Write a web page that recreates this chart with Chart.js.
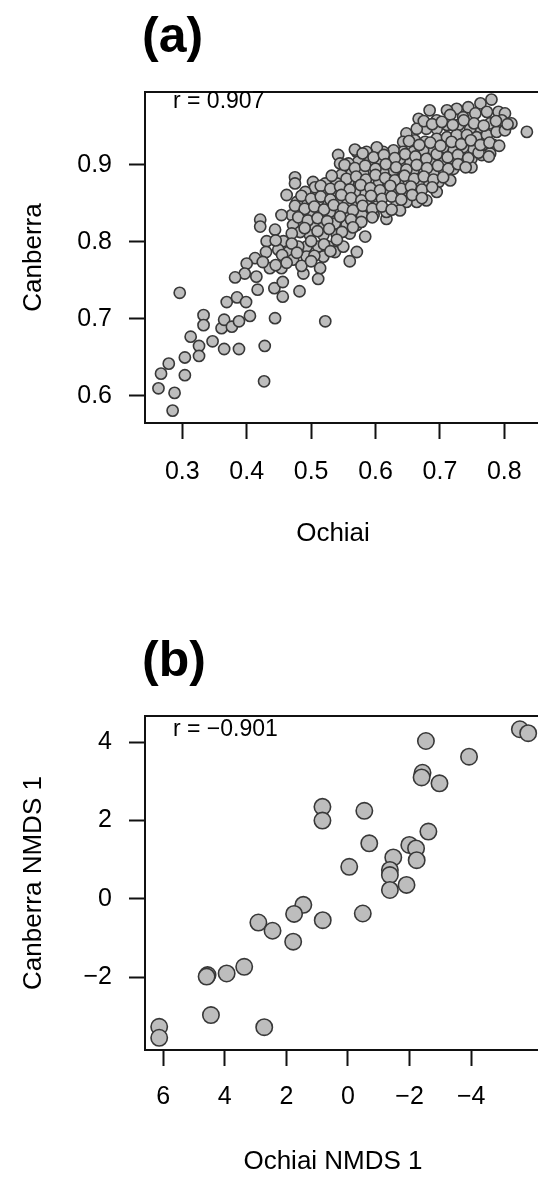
<!DOCTYPE html>
<html lang="en">
<head>
  <meta charset="UTF-8" />
  <title>Ochiai vs Canberra</title>
  <style>
    body { margin: 0; background: white; }
    canvas { display: block; }
  </style>
</head>
<body>
  <canvas id="chartA" width="538" height="589"></canvas>
  <canvas id="chartB" width="538" height="589"></canvas>

  <script src="https://cdn.jsdelivr.net/npm/chart.js"></script>
  <script>
    // panel (a): pairwise dissimilarities, Ochiai (x) vs Canberra (y)
    const ochiaiA = [
      0.780, 0.763, 0.744, 0.726, 0.711, 0.684, 0.667, 0.695, 0.716, 0.736, 0.755, 0.773, 0.791, 0.801, 0.811, 0.835,
      0.796, 0.778, 0.762, 0.747, 0.729, 0.711, 0.695, 0.679, 0.664, 0.648, 0.643, 0.661, 0.677, 0.695, 0.711, 0.726,
      0.742, 0.757, 0.773, 0.788, 0.801, 0.783, 0.767, 0.752, 0.736, 0.721, 0.705, 0.690, 0.674, 0.659, 0.643, 0.628,
      0.612, 0.602, 0.586, 0.571, 0.568, 0.542, 0.778, 0.765, 0.749, 0.749, 0.734, 0.718, 0.703, 0.685, 0.669, 0.654,
      0.638, 0.623, 0.607, 0.591, 0.573, 0.558, 0.545, 0.721, 0.705, 0.690, 0.674, 0.659, 0.643, 0.628, 0.612, 0.597,
      0.581, 0.563, 0.547, 0.716, 0.698, 0.682, 0.667, 0.651, 0.635, 0.620, 0.604, 0.589, 0.573, 0.558, 0.540, 0.522,
      0.503, 0.695, 0.679, 0.664, 0.646, 0.630, 0.615, 0.599, 0.584, 0.568, 0.553, 0.535, 0.519, 0.506, 0.491, 0.664,
      0.648, 0.633, 0.617, 0.602, 0.586, 0.571, 0.555, 0.540, 0.524, 0.511, 0.493, 0.478, 0.638, 0.617, 0.597, 0.579,
      0.560, 0.545, 0.529, 0.514, 0.498, 0.483, 0.470, 0.571, 0.555, 0.537, 0.519, 0.503, 0.488, 0.472, 0.584, 0.560,
      0.540, 0.519, 0.498, 0.483, 0.475, 0.475,
      0.462, 0.454, 0.444, 0.431, 0.421, 0.421, 0.457, 0.470, 0.527, 0.511, 0.493, 0.480, 0.465, 0.449, 0.413, 0.400,
      0.397, 0.382, 0.415, 0.436, 0.454, 0.472, 0.488, 0.514, 0.511, 0.537, 0.560, 0.550, 0.571, 0.519, 0.493,
      0.296, 0.263, 0.267, 0.279, 0.288, 0.285, 0.304, 0.304, 0.313, 0.326, 0.326, 0.333, 0.333, 0.347, 0.365, 0.361,
      0.365, 0.377, 0.388, 0.388, 0.405, 0.369, 0.385, 0.399, 0.417, 0.428, 0.427, 0.444, 0.443, 0.456, 0.456, 0.482,
      0.522,
      // overlapped points inside the dense band
      0.580, 0.597, 0.613, 0.630, 0.646, 0.662, 0.679, 0.695, 0.712, 0.728, 0.744, 0.760, 0.776,
      0.652, 0.668, 0.685, 0.701, 0.718, 0.733, 0.748, 0.763, 0.777, 0.792,
      0.675, 0.688, 0.703, 0.720, 0.737, 0.753, 0.768, 0.787, 0.805,
      0.552, 0.568, 0.584, 0.600, 0.616, 0.632, 0.648, 0.664, 0.680, 0.697, 0.713, 0.728, 0.740,
      0.532, 0.555, 0.570, 0.585, 0.600, 0.615, 0.630, 0.645, 0.660, 0.675, 0.690, 0.705,
      0.515, 0.530, 0.545, 0.560, 0.577, 0.592, 0.607, 0.623, 0.640, 0.655, 0.672, 0.688,
      0.485, 0.500, 0.515, 0.530, 0.547, 0.562, 0.578, 0.593, 0.610, 0.625, 0.640, 0.657, 0.672,
      0.475, 0.490, 0.505, 0.520, 0.535, 0.550, 0.565, 0.580, 0.595, 0.610, 0.625,
      0.480, 0.495, 0.510, 0.525, 0.545, 0.562, 0.578, 0.595,
      0.490, 0.510, 0.528, 0.548, 0.565,
      0.445, 0.470, 0.500, 0.520, 0.540,
      0.430, 0.455, 0.478, 0.505, 0.530,
      0.425, 0.445, 0.462, 0.485, 0.500
    ];
    const canberraA = [
      0.985, 0.980, 0.975, 0.973, 0.971, 0.971, 0.960, 0.958, 0.965, 0.962, 0.967, 0.969, 0.969, 0.967, 0.954, 0.943,
      0.958, 0.954, 0.949, 0.947, 0.952, 0.952, 0.947, 0.947, 0.947, 0.941, 0.930, 0.932, 0.930, 0.934, 0.936, 0.939,
      0.939, 0.936, 0.939, 0.943, 0.945, 0.926, 0.926, 0.921, 0.923, 0.921, 0.923, 0.919, 0.919, 0.917, 0.917, 0.919,
      0.917, 0.923, 0.917, 0.917, 0.920, 0.913, 0.915, 0.913, 0.908, 0.897, 0.904, 0.906, 0.904, 0.904, 0.904, 0.904,
      0.908, 0.906, 0.908, 0.906, 0.904, 0.902, 0.902, 0.895, 0.891, 0.889, 0.891, 0.893, 0.891, 0.893, 0.891, 0.891,
      0.889, 0.889, 0.887, 0.880, 0.878, 0.876, 0.878, 0.878, 0.876, 0.878, 0.878, 0.880, 0.878, 0.878, 0.876, 0.876,
      0.878, 0.865, 0.854, 0.861, 0.865, 0.861, 0.865, 0.863, 0.865, 0.865, 0.865, 0.863, 0.865, 0.871, 0.865, 0.852,
      0.852, 0.850, 0.830, 0.846, 0.848, 0.848, 0.850, 0.852, 0.852, 0.854, 0.852, 0.852, 0.841, 0.839, 0.835, 0.835,
      0.835, 0.839, 0.839, 0.837, 0.839, 0.837, 0.835, 0.822, 0.822, 0.824, 0.824, 0.822, 0.824, 0.822, 0.807, 0.811,
      0.809, 0.809, 0.809, 0.813, 0.884, 0.876,
      0.861, 0.835, 0.816, 0.801, 0.829, 0.820, 0.801, 0.811, 0.794, 0.794, 0.794, 0.794, 0.787, 0.790, 0.779, 0.772,
      0.759, 0.754, 0.755, 0.766, 0.766, 0.777, 0.759, 0.766, 0.752, 0.787, 0.775, 0.794, 0.787, 0.781, 0.781,
      0.734, 0.610, 0.629, 0.642, 0.604, 0.581, 0.627, 0.650, 0.677, 0.665, 0.652, 0.705, 0.692, 0.671, 0.661, 0.688,
      0.699, 0.690, 0.697, 0.661, 0.704, 0.722, 0.728, 0.722, 0.738, 0.665, 0.619, 0.701, 0.740, 0.729, 0.748, 0.736,
      0.697,
      0.915, 0.910, 0.913, 0.909, 0.914, 0.911, 0.908, 0.914, 0.910, 0.913, 0.909, 0.916, 0.911,
      0.931, 0.926, 0.929, 0.925, 0.930, 0.927, 0.932, 0.926, 0.929, 0.925,
      0.957, 0.953, 0.956, 0.952, 0.958, 0.954, 0.951, 0.957, 0.953,
      0.900, 0.896, 0.899, 0.895, 0.901, 0.897, 0.894, 0.900, 0.896, 0.899, 0.895, 0.901, 0.897,
      0.886, 0.882, 0.885, 0.881, 0.887, 0.883, 0.880, 0.886, 0.882, 0.885, 0.881, 0.884,
      0.873, 0.869, 0.872, 0.868, 0.874, 0.870, 0.867, 0.873, 0.869, 0.872, 0.868, 0.871,
      0.860, 0.856, 0.859, 0.855, 0.861, 0.857, 0.854, 0.860, 0.856, 0.859, 0.855, 0.861, 0.857,
      0.847, 0.843, 0.846, 0.842, 0.848, 0.844, 0.841, 0.847, 0.843, 0.846, 0.842,
      0.832, 0.828, 0.831, 0.827, 0.833, 0.829, 0.826, 0.832,
      0.818, 0.814, 0.817, 0.813, 0.819,
      0.802, 0.798, 0.801, 0.797, 0.803,
      0.787, 0.783, 0.786, 0.782, 0.788,
      0.774, 0.770, 0.773, 0.769, 0.775
    ];

    // panel (b): first NMDS axis of each ordination
    const ochiaiNmds = [
      -5.58, -5.85, -2.53, -3.93, -2.42, -2.39, -2.97, 0.83, 0.83, -0.53, -2.61, -0.69, -1.99, -2.21, -2.23, -1.47,
      -0.04, -1.36, -1.36, -1.36, -1.90, -0.48, 0.82, 1.45, 1.75, 2.91, 2.45, 1.78, 3.37, 3.94, 4.56, 4.59,
      4.45, 2.72, 6.13, 6.13
    ];
    const canberraNmds = [
      4.33, 4.23, 4.03, 3.63, 3.22, 3.10, 2.95, 2.35, 2.00, 2.25, 1.72, 1.42, 1.38, 1.29, 0.99, 1.06,
      0.82, 0.74, 0.61, 0.23, 0.36, -0.37, -0.54, -0.15, -0.38, -0.60, -0.81, -1.09, -1.73, -1.90, -1.94, -1.98,
      -2.96, -3.27, -3.26, -3.54
    ];

    const ticksAx = [0.3, 0.4, 0.5, 0.6, 0.7, 0.8];
    const ticksAy = [0.6, 0.7, 0.8, 0.9];
    const ticksBx = [6, 4, 2, 0, -2, -4];
    const ticksBy = [4, 2, 0, -2];

    const FONT = "'Liberation Sans', Arial, sans-serif";
    const CANVAS_H = 589;

    function signed(v) {
      return v < 0 ? '\u2212' + Math.abs(v) : String(v);
    }

    // top frame line, panel letter, r value and x-axis title
    const decor = {
      id: 'decor',
      afterDatasetsDraw(chart, args, opts) {
        const { ctx, chartArea } = chart;
        ctx.save();
        ctx.strokeStyle = '#111';
        ctx.lineWidth = 2;
        ctx.beginPath();
        ctx.moveTo(chartArea.left - 1, chartArea.top);
        ctx.lineTo(chartArea.right, chartArea.top);
        ctx.stroke();

        ctx.fillStyle = '#000';
        ctx.textAlign = 'left';
        ctx.textBaseline = 'alphabetic';
        ctx.font = 'bold 50px ' + FONT;
        ctx.fillText(opts.panel, 142, opts.panelY);
        ctx.font = '23px ' + FONT;
        ctx.fillText(opts.r, 173, opts.rY);

        ctx.textAlign = 'center';
        ctx.textBaseline = 'middle';
        ctx.font = '26px ' + FONT;
        ctx.fillText(opts.xTitle, 333, opts.xTitleY);
        ctx.restore();
      }
    };

    function axisStyle(o) {
      return {
        type: 'linear',
        border: { color: '#111', width: 2 },
        grid: { drawOnChartArea: false, tickLength: 16, tickWidth: 2, tickColor: '#111' },
        ticks: {
          color: '#000',
          font: { family: FONT, size: 25 },
          padding: o.pad,
          autoSkip: false,
          maxRotation: 0,
          callback: o.fmt
        },
        afterBuildTicks: s => { s.ticks = o.ticks.map(v => ({ value: v })); }
      };
    }

    function panel(id, xs, ys, o) {
      const xAxis = axisStyle({ pad: o.xPad, ticks: o.xTicks, fmt: o.fmt });
      Object.assign(xAxis, {
        min: o.xMin, max: o.xMax, reverse: !!o.reverse,
        afterFit: s => { s.height = CANVAS_H - o.bottom; s.paddingLeft = 0; s.paddingRight = 0; }
      });
      const yAxis = axisStyle({ pad: 17, ticks: o.yTicks, fmt: o.fmt });
      Object.assign(yAxis, {
        min: o.yMin, max: o.yMax,
        title: { display: true, text: o.yTitle, color: '#000', font: { family: FONT, size: 26 }, padding: { top: 18, bottom: 0 } },
        afterFit: s => { s.width = 145; s.paddingTop = 0; s.paddingBottom = 0; }
      });

      return new Chart(document.getElementById(id), {
        type: 'scatter',
        data: {
          datasets: [{
            data: xs.map((x, i) => ({ x: x, y: ys[i] })),
            pointRadius: o.radius,
            pointBackgroundColor: '#bdbdbd',
            pointBorderColor: '#383838',
            pointBorderWidth: 1.6
          }]
        },
        plugins: [decor],
        options: {
          responsive: false,
          animation: false,
          devicePixelRatio: 1,
          events: [],
          layout: { autoPadding: false, padding: { top: o.top, left: 0, right: 0, bottom: 0 } },
          plugins: {
            legend: { display: false },
            tooltip: { enabled: false },
            decor: o.decor
          },
          scales: { x: xAxis, y: yAxis }
        }
      });
    }

    panel('chartA', ochiaiA, canberraA, {
      top: 92, bottom: 423, radius: 5.6,
      xMin: 0.2421, xMax: 0.8523, yMin: 0.5649, yMax: 0.9948,
      xTicks: ticksAx, yTicks: ticksAy, xPad: 18,
      fmt: v => v.toFixed(1),
      yTitle: 'Canberra',
      decor: { panel: '(a)', panelY: 52, r: 'r = 0.907', rY: 108, xTitle: 'Ochiai', xTitleY: 534 }
    });

    panel('chartB', ochiaiNmds, canberraNmds, {
      top: 127, bottom: 461, radius: 8.2, reverse: true,
      xMin: -6.169, xMax: 6.591, yMin: -3.852, yMax: 4.668,
      xTicks: ticksBx, yTicks: ticksBy, xPad: 16,
      fmt: v => signed(v),
      yTitle: 'Canberra NMDS 1',
      decor: { panel: '(b)', panelY: 87, r: 'r = \u22120.901', rY: 147, xTitle: 'Ochiai NMDS 1', xTitleY: 573 }
    });
  </script>
</body>
</html>
